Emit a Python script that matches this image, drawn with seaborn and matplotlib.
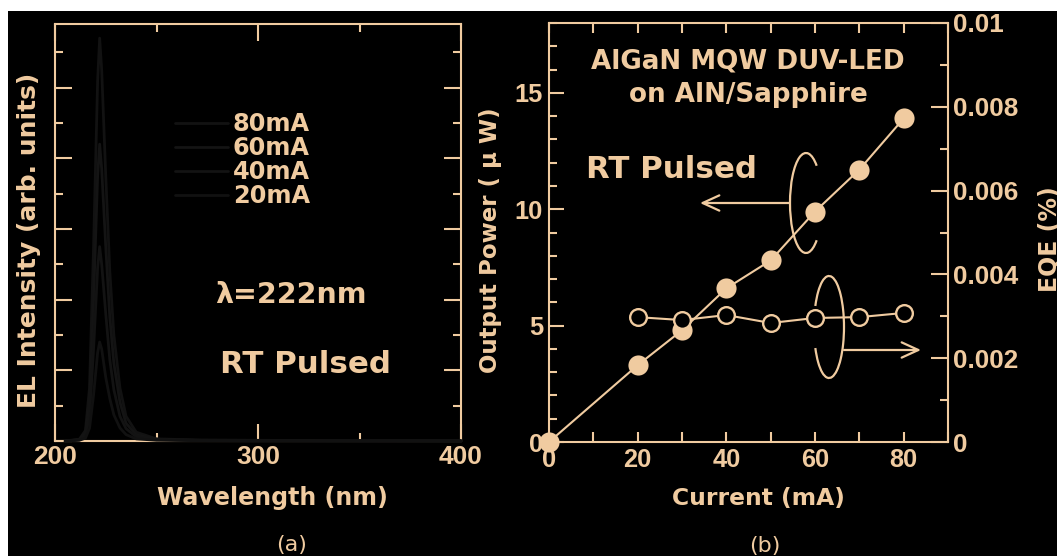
import matplotlib
matplotlib.use("Agg")
import matplotlib.pyplot as plt
import matplotlib.transforms as mtransforms
from matplotlib.patches import Arc, Rectangle
from matplotlib.ticker import MultipleLocator, FixedLocator, FuncFormatter, NullFormatter
import seaborn as sns

# ---------------- data ----------------
wavelength_nm = [205, 212, 215, 217, 219, 221, 222, 223, 225, 227, 229, 232, 235, 240, 250, 270, 300, 350, 400]
el_80mA = [0.0, 0.005, 0.03, 0.15, 0.55, 1.02, 1.14, 1.05, 0.75, 0.48, 0.30, 0.15, 0.07, 0.025, 0.006, 0.003, 0.002, 0.001, 0.001]
el_60mA = [0.0, 0.004, 0.022, 0.11, 0.40, 0.75, 0.84, 0.77, 0.55, 0.35, 0.22, 0.11, 0.05, 0.018, 0.005, 0.002, 0.001, 0.001, 0.0]
el_40mA = [0.0, 0.003, 0.015, 0.07, 0.26, 0.49, 0.55, 0.50, 0.36, 0.23, 0.145, 0.07, 0.035, 0.012, 0.004, 0.002, 0.001, 0.0, 0.0]
el_20mA = [0.0, 0.002, 0.008, 0.036, 0.13, 0.25, 0.28, 0.26, 0.18, 0.12, 0.074, 0.037, 0.018, 0.006, 0.002, 0.001, 0.0, 0.0, 0.0]
spectra_labels = ["80mA", "60mA", "40mA", "20mA"]

current_mA = [0, 20, 30, 40, 50, 60, 70, 80]
output_power_uW = [0.0, 3.3, 4.8, 6.6, 7.8, 9.9, 11.7, 13.9]

eqe_current_mA = [20, 30, 40, 50, 60, 70, 80]
eqe_percent = [0.00298, 0.00291, 0.00303, 0.00284, 0.00296, 0.00298, 0.00308]

x_ticks_a = [200, 300, 400]
eqe_ticks = [0, 0.002, 0.004, 0.006, 0.008, 0.01]

# ---------------- style ----------------
TAN = "#F0CBA0"
TXT = "DejaVu Sans"
sns.set_style("ticks")
plt.rcParams.update({
    "font.family": ["Liberation Sans", "DejaVu Sans"],
    "font.weight": "bold",
    "axes.labelweight": "bold",
    "text.color": TAN,
    "axes.labelcolor": TAN,
    "axes.edgecolor": TAN,
    "xtick.color": TAN,
    "ytick.color": TAN,
    "axes.facecolor": "black",
    "axes.linewidth": 1.5,
})

W, H = 1057, 556
def fx(px):
    return px / W
def fy(py):
    return 1 - py / H

fig = plt.figure(figsize=(W / 100, H / 100), dpi=100)
fig.patch.set_facecolor("white")
fig.add_artist(Rectangle((fx(8), 0), 1 - fx(8), fy(11), transform=fig.transFigure,
                         facecolor="black", edgecolor="none", zorder=-10))

# ---------------- panel (a) ----------------
ax1 = fig.add_axes([fx(55), fy(441), (461 - 55) / W, (441 - 24) / H])
ax1.set_facecolor("black")
spec_colors = ["#121212", "#141414", "#131313", "#111111"]
for vals, lab, c in zip([el_80mA, el_60mA, el_40mA, el_20mA], spectra_labels, spec_colors):
    sns.lineplot(x=wavelength_nm, y=vals, ax=ax1, color=c, lw=2.0, label=lab,
                 sort=False, errorbar=None, zorder=3, clip_on=False)
ax1.set_xlim(200, 400)
ax1.set_ylim(0, 1.18)
ax1.xaxis.set_major_locator(FixedLocator(x_ticks_a))
ax1.xaxis.set_minor_locator(MultipleLocator(50))
ax1.yaxis.set_major_locator(MultipleLocator(0.2))
ax1.yaxis.set_minor_locator(MultipleLocator(0.1))
ax1.yaxis.set_major_formatter(NullFormatter())
ax1.tick_params(which="both", direction="in", top=True, right=True, width=1.5)
ax1.tick_params(which="major", length=12)
ax1.tick_params(which="minor", length=6)
ax1.tick_params(axis="x", labelsize=19, pad=3)
ax1.set_xlabel("Wavelength (nm)", fontsize=17.1, fontfamily=TXT)
ax1.xaxis.label.set_va("baseline")
ax1.xaxis.set_label_coords((272 - 55) / 406, (441 - 505) / 417)
ax1.set_ylabel("EL Intensity (arb. units)", fontsize=18, fontfamily=TXT)
ax1.yaxis.label.set_va("center")
ax1.yaxis.set_label_coords((29 - 55) / 406, (441 - 240) / 417)

handles, labels = ax1.get_legend_handles_labels()
ax1.legend(handles, labels, loc="upper left", bbox_to_anchor=(fx(175), fy(112)),
           bbox_transform=fig.transFigure, frameon=False,
           prop={"family": TXT, "weight": "bold", "size": 17.3},
           borderpad=0, borderaxespad=0, handlelength=2.2, handletextpad=0.2,
           labelspacing=0.0, labelcolor=TAN)

fig.text(fx(291), fy(303), "λ=222nm", fontsize=20.5, fontfamily=TXT, ha="center", va="baseline")
fig.text(fx(306), fy(373), "RT Pulsed", fontsize=22.2, fontfamily=TXT, ha="center", va="baseline")
fig.text(fx(292), fy(545), "(a)", fontsize=16, fontfamily=TXT, fontweight="normal",
         ha="center", va="center")

# ---------------- panel (b) ----------------
ax2 = fig.add_axes([fx(549), fy(442), (948 - 549) / W, (442 - 23) / H])
ax2.set_facecolor("black")
sns.lineplot(x=current_mA, y=output_power_uW, ax=ax2, color=TAN, lw=1.5, marker="o",
             markersize=14.5, markerfacecolor=TAN, markeredgecolor=TAN, markeredgewidth=0,
             sort=False, errorbar=None, clip_on=False, zorder=4)
ax2.set_xlim(0, 90)
ax2.set_ylim(0, 18)
ax2.xaxis.set_major_locator(MultipleLocator(20))
ax2.xaxis.set_minor_locator(MultipleLocator(10))
ax2.yaxis.set_major_locator(MultipleLocator(5))
ax2.yaxis.set_minor_locator(MultipleLocator(1))
ax2.spines["right"].set_visible(False)
ax2.tick_params(which="both", direction="in", top=True, right=False, width=1.5)
ax2.tick_params(axis="x", which="both", length=7)
ax2.tick_params(axis="y", which="major", length=11)
ax2.tick_params(axis="y", which="minor", length=6)
ax2.tick_params(axis="x", labelsize=18.3, pad=4.3)
ax2.tick_params(axis="y", labelsize=18.3, pad=4.3)
ax2.set_xlabel("Current (mA)", fontsize=16.8, fontfamily=TXT)
ax2.xaxis.label.set_va("baseline")
ax2.xaxis.set_label_coords((758 - 549) / 399, (442 - 505) / 419)
ax2.set_ylabel("Output Power ( μ W)", fontsize=16.5, fontfamily=TXT)
ax2.yaxis.label.set_va("center")
ax2.yaxis.set_label_coords((491 - 549) / 399, (442 - 240) / 419)

ax3 = ax2.twinx()
sns.lineplot(x=eqe_current_mA, y=eqe_percent, ax=ax3, color=TAN, lw=1.5, marker="o",
             markersize=12, markerfacecolor="black", markeredgecolor=TAN, markeredgewidth=1.7,
             sort=False, errorbar=None, zorder=4)
ax3.set_ylim(0, 0.01)
for s in ["left", "top", "bottom"]:
    ax3.spines[s].set_visible(False)
ax3.yaxis.set_major_locator(FixedLocator(eqe_ticks))
ax3.yaxis.set_minor_locator(MultipleLocator(0.001))
ax3.yaxis.set_major_formatter(FuncFormatter(lambda v, p: "0" if abs(v) < 1e-12 else f"{v:g}"))
ax3.tick_params(which="both", direction="in", width=1.5)
ax3.tick_params(which="major", length=12)
ax3.tick_params(which="minor", length=6)
ax3.tick_params(axis="y", labelsize=18.8, pad=3.6)
ax3.set_ylabel("EQE (%)", fontsize=17, fontfamily=TXT, rotation=90)
ax3.yaxis.label.set_va("center")
ax3.yaxis.set_label_coords((1050 - 549) / 399, (442 - 239) / 419)

# title texts
fig.text(fx(748), fy(68), "AlGaN MQW DUV-LED", fontsize=18.8, fontfamily=TXT, ha="center", va="baseline")
fig.text(fx(748), fy(102), "on AlN/Sapphire", fontsize=18.8, fontfamily=TXT, ha="center", va="baseline")
fig.text(fx(672), fy(178), "RT Pulsed", fontsize=22.2, fontfamily=TXT, ha="center", va="baseline")
fig.text(fx(765), fy(546), "(b)", fontsize=16, fontfamily=TXT, fontweight="normal",
         ha="center", va="center")

# ellipse loops (pixel space) with arrows
ident = mtransforms.IdentityTransform()
up_c = (806, H - 203)
lo_c = (829, H - 327)
ax3.add_patch(Arc(up_c, 32, 100, theta1=74, theta2=286, color=TAN, lw=1.6,
                  transform=ident, clip_on=False))
ax3.add_patch(Arc(lo_c, 30, 102, theta1=-123, theta2=123, color=TAN, lw=1.6,
                  transform=ident, clip_on=False))

def to_data(px, py):
    return ((px - 549) / 399 * 90, (442 - py) / 419 * 18)

arrow_kw = dict(arrowstyle="->,head_length=1.2,head_width=0.55", color=TAN, lw=1.6,
                shrinkA=0, shrinkB=0, mutation_scale=10)
ax2.annotate("", xy=to_data(700, 203), xytext=to_data(790, 203), arrowprops=arrow_kw)
ax3.annotate("", xy=(921, H - 350), xytext=(844, H - 350), xycoords="figure pixels",
             textcoords="figure pixels", arrowprops=arrow_kw)

fig.savefig("out.png", dpi=100, facecolor=fig.get_facecolor())
